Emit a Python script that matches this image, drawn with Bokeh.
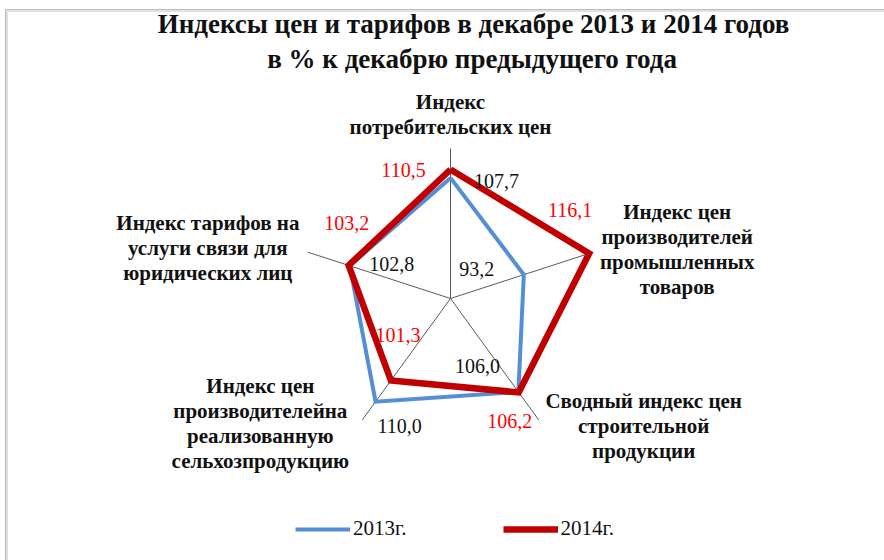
import numpy as np
from bokeh.plotting import figure
from bokeh.models import Range1d, Label, Legend, LegendItem, BoxAnnotation
from bokeh.embed import file_html
from bokeh.resources import INLINE

# ---------------- data ----------------
title_lines = ["Индексы цен и тарифов в декабре 2013 и 2014 годов",
               "в %  к декабрю предыдущего года"]
categories = [
    "Индекс\nпотребительских цен",
    "Индекс цен\nпроизводителей\nпромышленных\nтоваров",
    "Сводный индекс цен\nстроительной\nпродукции",
    "Индекс цен\nпроизводителейна\nреализованную\nсельхозпродукцию",
    "Индекс тарифов на\nуслуги связи для\nюридических лиц",
]
series_names = ["2013г.", "2014г."]
values_2013 = [107.7, 93.2, 106.0, 110.0, 102.8]
values_2014 = [110.5, 116.1, 106.2, 101.3, 103.2]

# ---------------- style / layout ----------------
W, H = 884, 560
CX, CY = 450, 298          # centre of radar in pixels
R_MIN, R_MAX = 67.5, 117.5  # radial axis range
RADIUS = 150               # radius in pixels (data units == pixels)
FONT = "Liberation Serif"
BLUE, RED = "#558ED5", "#C00000"
LINE_H = 25

# label offsets (pixels, y up)
off_2013 = [(46, -3), (-47, 6), (-41, 26), (24, -24), (42, 2)]
off_2014 = [(-47, 0), (-19, 43), (-9, -29), (7, 46), (-2, 42)]
off_cat = [(0, 34), (84, 3), (105, -6), (-102, -4), (-100, 4)]

n = len(categories)
theta = np.deg2rad(90 - 72 * np.arange(n))


def to_xy(vals):
    r = (np.asarray(vals) - R_MIN) / (R_MAX - R_MIN) * RADIUS
    return r * np.cos(theta), r * np.sin(theta)


def fmt(v):
    return f"{v:.1f}".replace(".", ",")


p = figure(width=W, height=H, x_range=Range1d(-CX, W - CX), y_range=Range1d(-(H - CY), CY),
           x_axis_location=None, y_axis_location=None, min_border=0,
           toolbar_location=None, output_backend="svg")
p.grid.visible = False
p.outline_line_color = None

ex, ey = RADIUS * np.cos(theta), RADIUS * np.sin(theta)
x13, y13 = to_xy(values_2013)
x14, y14 = to_xy(values_2014)

# title
p.add_layout(Label(x=473 - CX, y=CY - 38, text=title_lines[0], text_align="center",
                   text_font=FONT, text_font_size="27px",
                   text_font_style="bold", text_color="#111111"))
p.add_layout(Label(x=475 - CX, y=CY - 73, text=title_lines[1], text_align="center",
                   text_font=FONT, text_font_size="27px",
                   text_font_style="bold", text_color="#111111"))

# category labels, one Label per text line
for i, cat in enumerate(categories):
    lines = cat.split("\n")
    k = len(lines)
    for j, line in enumerate(lines):
        p.add_layout(Label(x=float(ex[i] + off_cat[i][0]),
                           y=float(ey[i] + off_cat[i][1] - (j - (k - 1) / 2) * LINE_H),
                           text=line, text_align="center", text_baseline="middle",
                           text_font=FONT, text_font_size="21px", text_font_style="bold",
                           text_color="#111111"))

# data labels
for xs, ys, vals, offs, col in ((x13, y13, values_2013, off_2013, "#111111"),
                                (x14, y14, values_2014, off_2014, "#FF0000")):
    for i in range(n):
        p.add_layout(Label(x=float(xs[i] + offs[i][0]), y=float(ys[i] + offs[i][1]),
                           text=fmt(vals[i]), text_align="center", text_baseline="middle",
                           text_font=FONT, text_font_size="20px", text_color=col))

# frame border (double line)
p.add_layout(BoxAnnotation(left=-445, right=2000, top=289, bottom=-2000, fill_alpha=0,
                           line_color="#202020", line_width=1.2))
p.add_layout(BoxAnnotation(left=-443.5, right=2000, top=287.5, bottom=-2000, fill_alpha=0,
                           line_color="#9a9a9a", line_width=2))

# spokes
p.segment(x0=np.zeros(n), y0=np.zeros(n), x1=ex, y1=ey, line_color="#5a5a5a", line_width=1)

# series
r13 = p.line(np.append(x13, x13[0]), np.append(y13, y13[0]), line_color=BLUE, line_width=4,
             line_join="miter")
r14 = p.line(np.append(x14, x14[0]), np.append(y14, y14[0]), line_color=RED, line_width=6.5,
             line_join="miter")

# legend
legend = Legend(items=[LegendItem(label=series_names[0], renderers=[r13]),
                       LegendItem(label=series_names[1], renderers=[r14])],
                orientation="horizontal", location=(295, 19), glyph_width=55, glyph_height=20,
                label_standoff=3, spacing=96, padding=0, margin=0,
                border_line_color=None, background_fill_alpha=0,
                label_text_font=FONT, label_text_font_size="21px", label_text_color="#111111")
p.add_layout(legend)

open("out.html", "w").write(file_html(p, INLINE))
